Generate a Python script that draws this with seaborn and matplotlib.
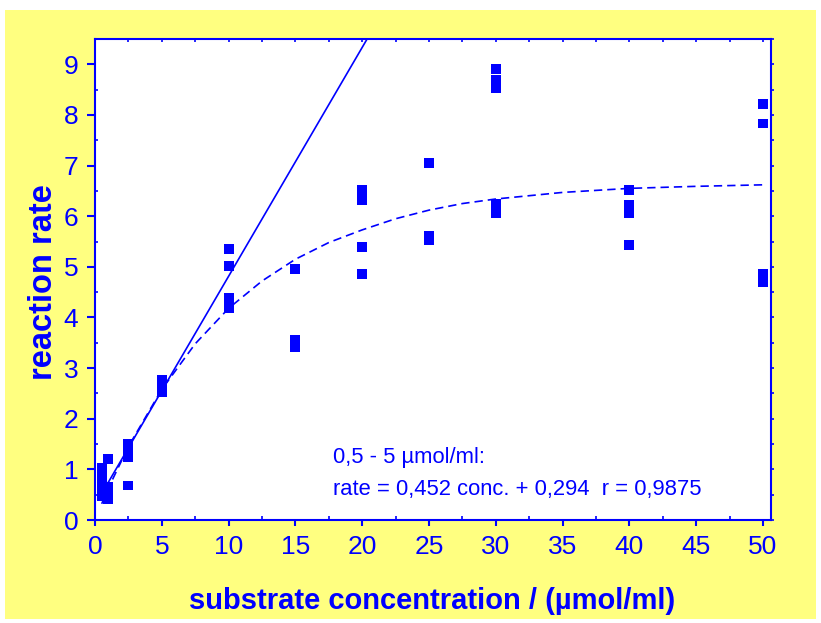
import numpy as np
import pandas as pd
import matplotlib
matplotlib.use("Agg")
import matplotlib.pyplot as plt
from matplotlib.patches import Rectangle
from matplotlib.ticker import MultipleLocator
import seaborn as sns

# ---- data ----
conc_points = [0.5, 0.5, 0.5, 0.5, 0.5,
               1, 1, 1, 1,
               2.5, 2.5, 2.5, 2.5,
               5, 5, 5,
               10, 10, 10, 10, 10,
               15, 15, 15,
               20, 20, 20, 20, 20,
               25, 25, 25,
               30, 30, 30, 30, 30,
               40, 40, 40, 40, 40,
               50, 50, 50, 50]
rate_points = [1.03, 0.91, 0.72, 0.6, 0.47,
               1.21, 0.65, 0.53, 0.42,
               1.5, 1.36, 1.24, 0.68,
               2.76, 2.64, 2.53,
               5.36, 5.01, 4.38, 4.28, 4.18,
               4.96, 3.55, 3.41,
               6.51, 6.39, 6.32, 5.39, 4.86,
               7.05, 5.62, 5.53,
               8.9, 8.7, 8.53, 6.24, 6.06,
               6.51, 6.22, 6.12, 6.06, 5.43,
               8.21, 7.83, 4.87, 4.7]

# linear regression 0.5 - 5 umol/ml: rate = 0.452 conc + 0.294
lin_conc = [0.5, 25.0]
lin_rate = [0.452 * c + 0.294 for c in lin_conc]

# saturation curve
curve_conc = [0.5, 1, 2.5, 5, 7.5, 10, 12.5, 15, 17.5, 20, 22.5, 25, 27.5, 30, 35, 40, 45, 50]
curve_rate = [0.32, 0.63, 1.45, 2.58, 3.48, 4.18, 4.72, 5.15, 5.48, 5.73, 5.95, 6.12, 6.25, 6.34, 6.47, 6.55, 6.59, 6.62]

xticks = [0, 5, 10, 15, 20, 25, 30, 35, 40, 45, 50]
yticks = [0, 1, 2, 3, 4, 5, 6, 7, 8, 9]

BLUE = "#0000ff"
YELLOW = "#ffff80"

sns.set_theme(style="white")
plt.rcParams["font.family"] = ["Liberation Sans", "DejaVu Sans"]

fig = plt.figure(figsize=(8.21, 6.23), dpi=100, facecolor="white")
fig.patches.append(Rectangle((5 / 821, 4 / 623), 811 / 821, 609 / 623,
                             transform=fig.transFigure, facecolor=YELLOW,
                             edgecolor="none", zorder=-10))
ax = fig.add_axes([95 / 821, 1 - 520 / 623, (771 - 95) / 821, (520 - 39) / 623])
ax.set_zorder(1)
ax.set_facecolor("white")

df = pd.DataFrame({"conc": conc_points, "rate": rate_points})
lin_df = pd.DataFrame({"conc": lin_conc, "rate": lin_rate})
cur_df = pd.DataFrame({"conc": curve_conc, "rate": curve_rate})

sns.lineplot(data=lin_df, x="conc", y="rate", ax=ax, color=BLUE, lw=1.2,
             estimator=None, sort=False, zorder=2)
sns.lineplot(data=cur_df, x="conc", y="rate", ax=ax, color=BLUE, lw=1.2,
             estimator=None, zorder=2)
ax.lines[-1].set_dashes((5, 3))
sns.scatterplot(data=df, x="conc", y="rate", ax=ax, marker="s", s=50,
                color=BLUE, edgecolor="none", linewidth=0, zorder=3)

ax.set_xlim(0, 50.6)
ax.set_ylim(0, 9.5)
ax.set_xticks(xticks)
ax.set_yticks(yticks)
ax.xaxis.set_minor_locator(MultipleLocator(2.5))
ax.yaxis.set_minor_locator(MultipleLocator(0.5))

for sp in ax.spines.values():
    sp.set_color(BLUE)
    sp.set_linewidth(1.5)
    sp.set_visible(True)

ax.tick_params(axis="x", which="major", direction="out", length=4, width=1.5,
               color=BLUE, labelcolor=BLUE, labelsize=19, pad=7,
               bottom=True, top=False)
ax.tick_params(axis="x", which="minor", direction="in", length=3, width=1.2,
               color=BLUE, bottom=True, top=False)
ax.tick_params(axis="y", which="major", direction="out", length=6, width=1.5,
               color=BLUE, labelcolor=BLUE, labelsize=19, pad=6,
               left=True, right=False)
ax.tick_params(axis="y", which="minor", direction="in", length=2.5, width=1.2,
               color=BLUE, left=True, right=False)

# top and right tick marks
secx = ax.secondary_xaxis("top")
secx.set_xticks(np.arange(0, 50.1, 2.5))
secx.tick_params(direction="in", length=2.5, width=1.2, color=BLUE,
                 labeltop=False)
secx.spines["top"].set_visible(False)
secy = ax.secondary_yaxis("right")
secy.set_yticks(np.arange(0, 9.51, 0.5))
secy.tick_params(direction="out", length=2, width=1.2, color=BLUE,
                 labelright=False)
secy.spines["right"].set_visible(False)

ax.set_xlabel("")
ax.set_ylabel("")
fig.text(432 / 821, 1 - 601 / 623, "substrate concentration / (µmol/ml)",
         color=BLUE, fontsize=21, fontweight="bold", ha="center", va="center")
fig.text(43 / 821, 1 - 282 / 623, "reaction rate", color=BLUE, fontsize=23.5,
         fontweight="bold", rotation=90, ha="center", va="center")

ax.text(17.8, 1.24, "0,5 - 5 µmol/ml:", color=BLUE, fontsize=15.8,
        ha="left", va="center")
ax.text(17.8, 0.61, "rate = 0,452 conc. + 0,294  r = 0,9875", color=BLUE,
        fontsize=15.8, ha="left", va="center")

fig.savefig("out.png", dpi=100, facecolor="white")
